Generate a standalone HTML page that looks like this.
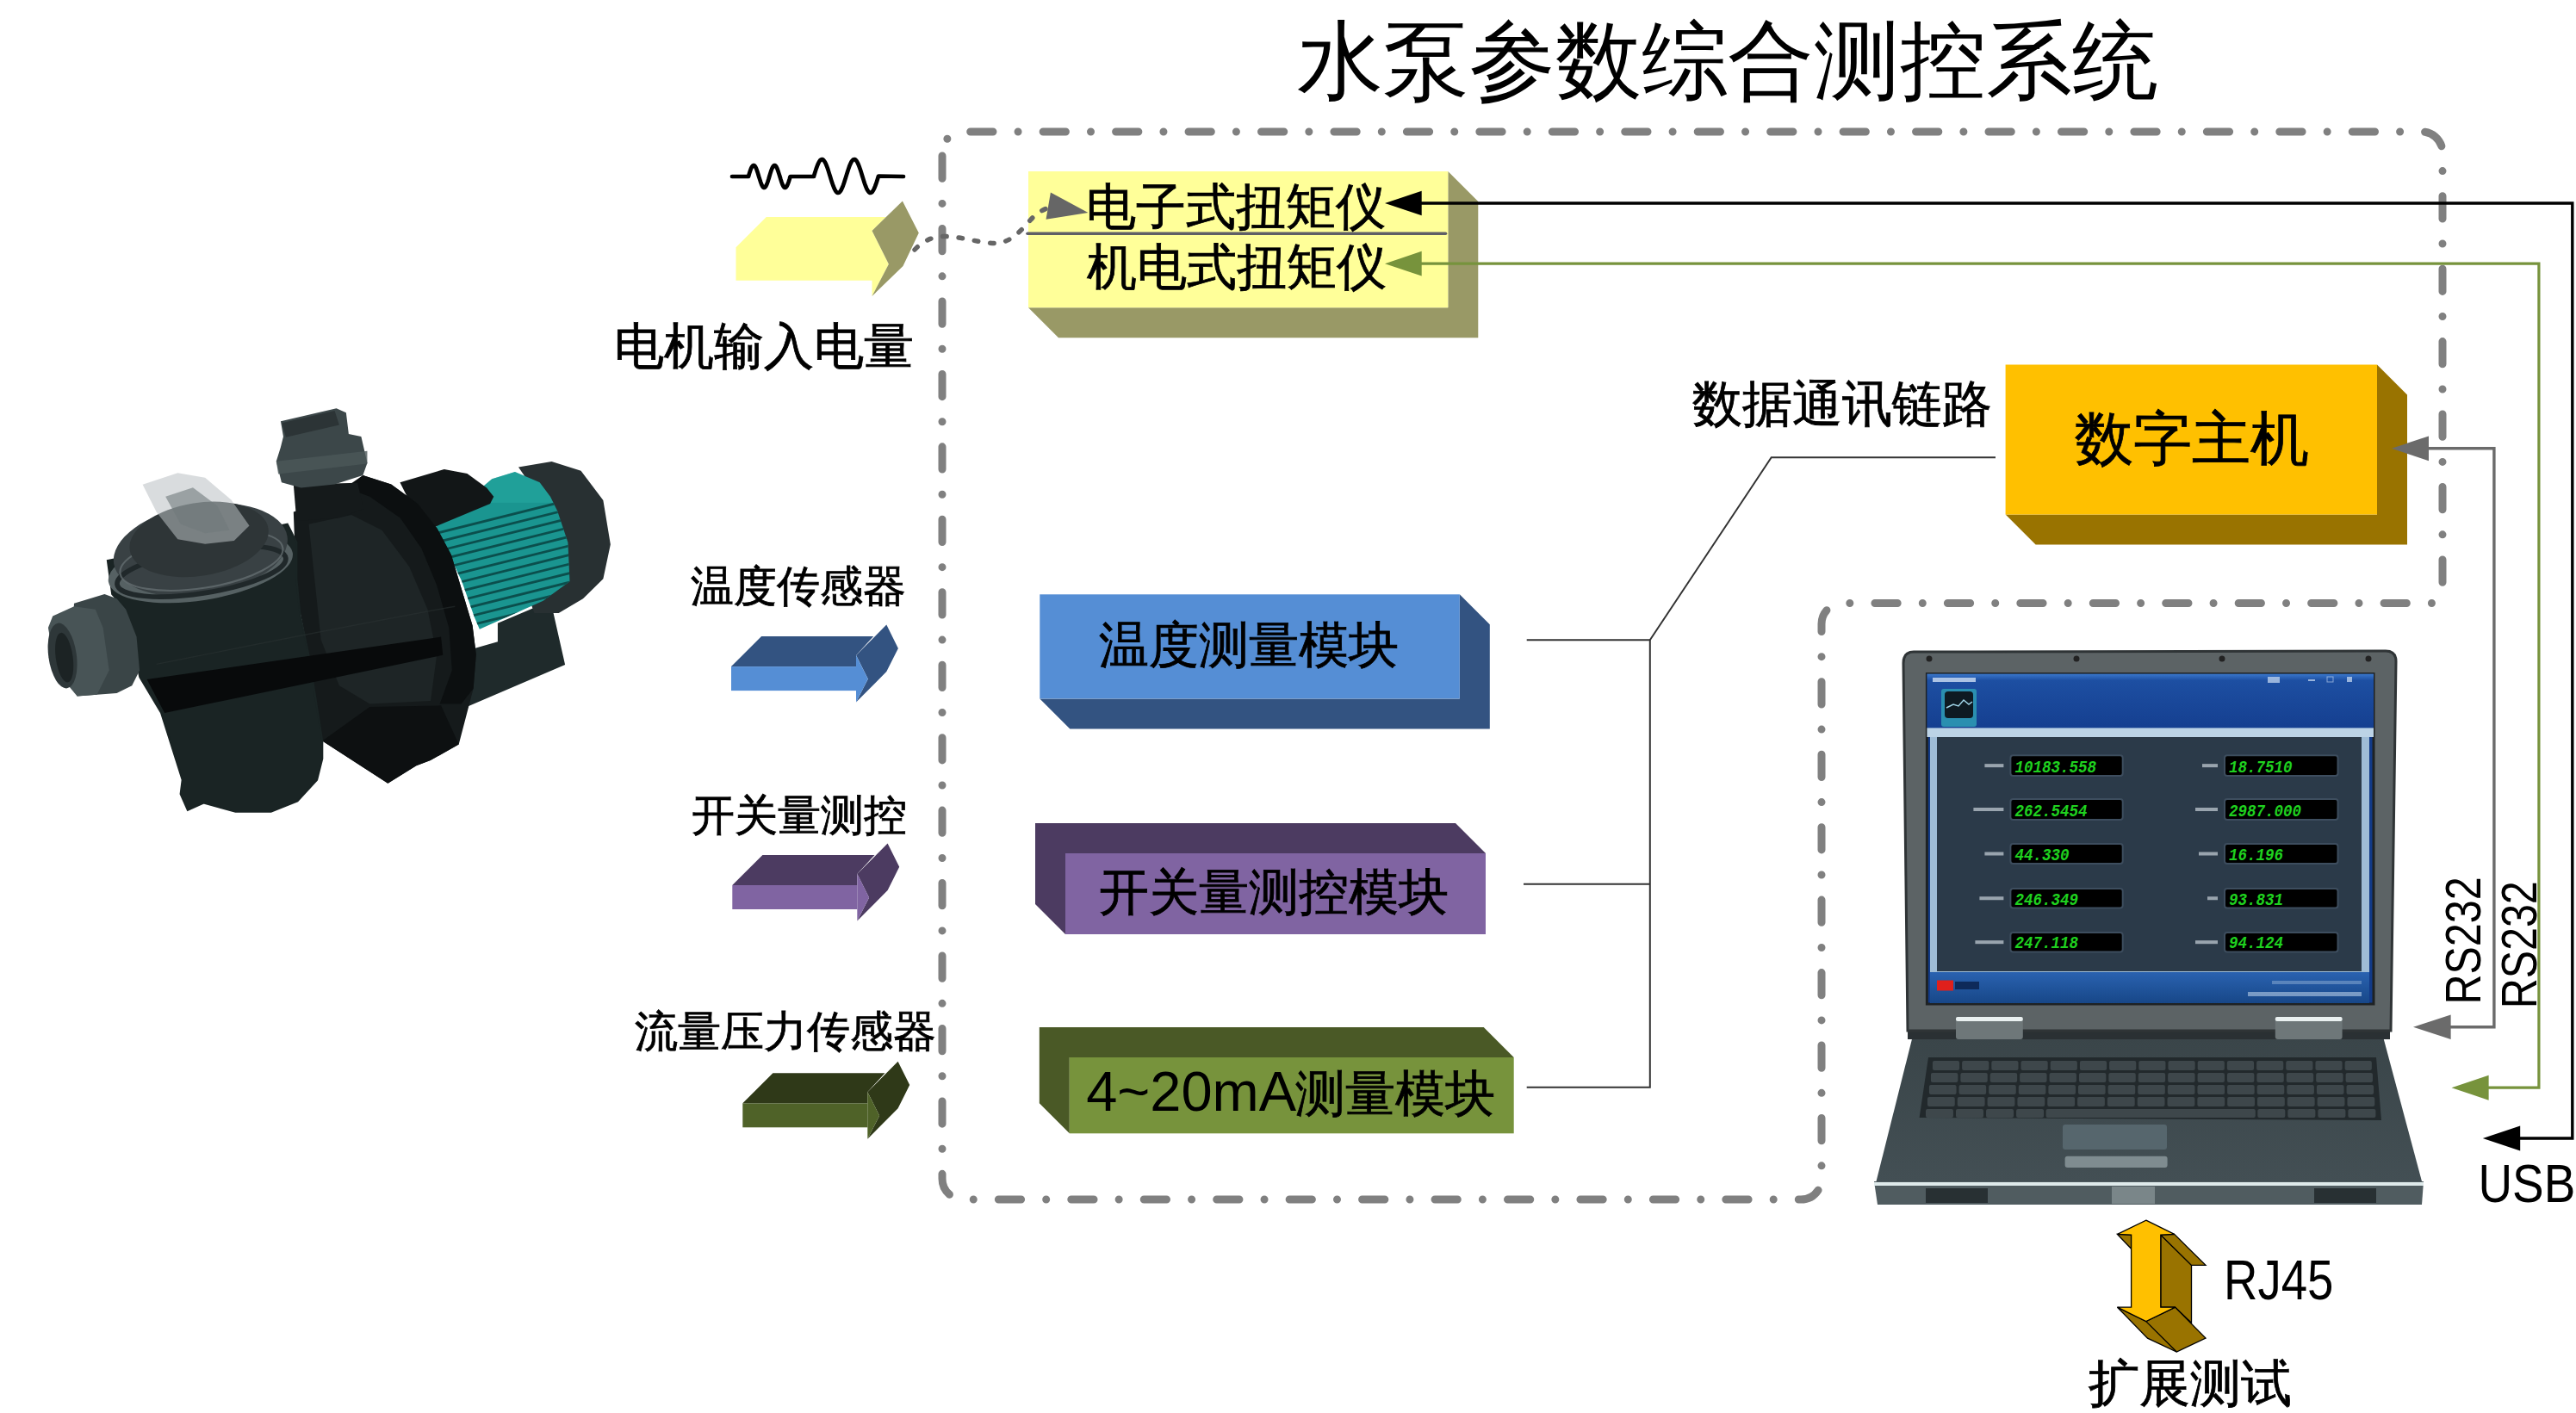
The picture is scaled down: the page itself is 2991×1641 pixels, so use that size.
<!DOCTYPE html>
<html><head><meta charset="utf-8"><title>水泵参数综合测控系统</title>
<style>
html,body{margin:0;padding:0;background:#ffffff;width:2991px;height:1641px;overflow:hidden}
svg{display:block}
text{font-family:"Liberation Sans",sans-serif}
</style></head><body>
<svg width="2991" height="1641" viewBox="0 0 2991 1641">
<rect width="2991" height="1641" fill="#ffffff"/>
<g transform="translate(40,460) scale(0.35389)">
<polygon points="1520,745 1650,690 1700,700 1741,881.7 1334,1056 1400,850 1438.7,829.4 1520,806" fill="#1f2a2b" />
<polygon points="1588,233 1697,215 1793,245 1866,341.6 1890,486.4 1866,600 1800,665 1720,712 1640,712 1600,600 1600,400 1620,280" fill="#283032" />
<clipPath id="mclip"><polygon points="1309.6,434.3 1501,272 1576.4,248.7 1657.6,283.5 1692.4,330 1715.6,376.3 1750.4,480.7 1756.2,608.3 1669.2,672 1460.4,765 1443,724.3 1402.4,608.3 1361.8,521.3"/></clipPath>
<polygon points="1309.6,434.3 1501,272 1576.4,248.7 1657.6,283.5 1692.4,330 1715.6,376.3 1750.4,480.7 1756.2,608.3 1669.2,672 1460.4,765 1443,724.3 1402.4,608.3 1361.8,521.3" fill="#1a9590" />
<g clip-path="url(#mclip)">
<line x1="1250" y1="467.13" x2="1800" y2="330" stroke="#0b4f4d" stroke-width="8"/>
<line x1="1250" y1="497.13" x2="1800" y2="360" stroke="#0b4f4d" stroke-width="8"/>
<line x1="1250" y1="527.13" x2="1800" y2="390" stroke="#0b4f4d" stroke-width="8"/>
<line x1="1250" y1="557.13" x2="1800" y2="420" stroke="#0b4f4d" stroke-width="8"/>
<line x1="1250" y1="587.13" x2="1800" y2="450" stroke="#0b4f4d" stroke-width="8"/>
<line x1="1250" y1="617.13" x2="1800" y2="480" stroke="#0b4f4d" stroke-width="8"/>
<line x1="1250" y1="647.13" x2="1800" y2="510" stroke="#0b4f4d" stroke-width="8"/>
<line x1="1250" y1="677.13" x2="1800" y2="540" stroke="#0b4f4d" stroke-width="8"/>
<line x1="1250" y1="707.13" x2="1800" y2="570" stroke="#0b4f4d" stroke-width="8"/>
<line x1="1250" y1="737.13" x2="1800" y2="600" stroke="#0b4f4d" stroke-width="8"/>
<line x1="1250" y1="767.13" x2="1800" y2="630" stroke="#0b4f4d" stroke-width="8"/>
<line x1="1250" y1="797.13" x2="1800" y2="660" stroke="#0b4f4d" stroke-width="8"/>
<line x1="1250" y1="827.13" x2="1800" y2="690" stroke="#0b4f4d" stroke-width="8"/>
<line x1="1250" y1="857.13" x2="1800" y2="720" stroke="#0b4f4d" stroke-width="8"/>
<line x1="1250" y1="887.13" x2="1800" y2="750" stroke="#0b4f4d" stroke-width="8"/>
<line x1="1250" y1="917.13" x2="1800" y2="780" stroke="#0b4f4d" stroke-width="8"/>
<rect x="1250" y="240" width="600" height="110" fill="#2fb5ad" opacity="0.35"/>
</g>
<polygon points="1199.4,283.5 1344.4,240 1419.8,254.5 1483.6,301 1506.8,330 1495.2,353 1315.4,428.5 1245.8,376.3" fill="#121617" />
<polygon points="850,380 1000,330 1077.6,260.3 1170.4,289.3 1257.4,353 1321.2,434.3 1367.6,521.3 1402.4,637.3 1437.2,753.3 1449,848 1440,960 1392.2,1143.3 1299.2,1195.6 1252.7,1213 1159.6,1271.2 944.5,1131.7 900,850 860,650" fill="#151a1b" />
<path d="M1077.6,260.3 L1170.4,289.3 L1257.4,353 L1321.2,434.3 L1367.6,521.3 L1402.4,637.3 L1437.2,753.3 L1449,848 L1440,960 L1400,1010 L1330,1010 L1370,900 L1360,760 L1320,620 L1270,500 L1200,400 L1100,330 L1020,300 Z" fill="#0c0f10"/>
<polygon points="900,420 1040,390 1140,440 1230,560 1290,700 1320,850 1300,1000 1100,1010 1000,950 940,800" fill="#1e2526" />
<polygon points="944.5,1131.7 1159.6,1271.2 1252.7,1213 1299.2,1195.6 1392.2,1143.3 1334,1015.4 1100,1020" fill="#0d1011" />
<polygon points="240,540 255,650 300,700 345.7,922.4 415.5,1038.7 485.2,1259.6 479.4,1306 502.7,1358.4 555,1335 659.6,1364.2 776,1364.2 863.1,1329.4 927.1,1259.6 944.5,1189.8 944.5,1131.7 900,850 872,720 860,600 860,480 830,420" fill="#1a2424" stroke="#1a2424" stroke-width="6"/>
<polygon points="369,930 1334,790 1340,850 427,1040" fill="#080a0b" />
<path d="M400,880 C700,820 1000,760 1380,690" stroke="#2b3334" stroke-width="4" fill="none" opacity="0.5"/>
<ellipse cx="545" cy="562" rx="306" ry="108" transform="rotate(-9 545 562)" fill="#566163"/>
<ellipse cx="545" cy="505" rx="288" ry="148" transform="rotate(-9 545 505)" fill="#394144"/>
<ellipse cx="548" cy="575" rx="280" ry="72" transform="rotate(-9 548 575)" fill="none" stroke="#20282a" stroke-width="16"/>
<ellipse cx="548" cy="540" rx="270" ry="90" transform="rotate(-9 548 540)" fill="none" stroke="#6a7476" stroke-width="6" opacity="0.7"/>
<ellipse cx="540" cy="470" rx="230" ry="120" transform="rotate(-9 540 470)" fill="#2e3537"/>
<polygon points="355,290 470,252 560,268 645,340 705,425 655,475 560,485 470,470 400,380" fill="#b9c0c2" opacity="0.55"/>
<polygon points="430,330 520,300 600,360 640,440 560,450 480,420" fill="#6f797b" opacity="0.6"/>
<polygon points="130,680 230,650 270,665 300,700 335,790 345,900 320,950 270,975 140,985 120,900" fill="#3a4547" />
<polygon points="45,760 60,722 130,690 200,700 225,760 245,900 205,980 140,985 70,900" fill="#485456" />
<ellipse cx="92" cy="852" rx="46" ry="108" transform="rotate(-8 92 852)" fill="#2e3739"/>
<ellipse cx="98" cy="858" rx="28" ry="82" transform="rotate(-8 98 858)" fill="#1c2324"/>
<polygon points="850,290 1060,285 1080,370 1000,400 860,410" fill="#151a1b" />
<polygon points="808,83 990.6,40 1022.5,54.4 1031,124 1072,132.7 1092,219.7 1077.6,260.3 984.8,289.3 874.6,300.9 810.8,283.5 793.4,214 808,167.5 816.6,132.7" fill="#3c4749" />
<polygon points="793.4,214 1092,180 1092,222 800,256" fill="#4b5759" opacity="0.8"/>
<polygon points="812,88 985,48 1000,95 825,135" fill="#2c3436" />
</g>
<defs><linearGradient id="hdr" x1="0" y1="0" x2="0" y2="1"><stop offset="0" stop-color="#3a78cc"/><stop offset="0.12" stop-color="#1d4fa2"/><stop offset="1" stop-color="#153f90"/></linearGradient><linearGradient id="ftr" x1="0" y1="0" x2="0" y2="1"><stop offset="0" stop-color="#2a62b0"/><stop offset="1" stop-color="#174788"/></linearGradient><linearGradient id="deck" x1="0" y1="0" x2="0" y2="1"><stop offset="0" stop-color="#3a4549"/><stop offset="1" stop-color="#434f54"/></linearGradient></defs>
<polygon points="2220.7,1204 2767,1204 2812,1372 2178.5,1372" fill="url(#deck)" />
<polygon points="2176,1372 2814,1372 2812,1399 2180,1399" fill="#505c60" />
<rect x="2176" y="1373" width="638" height="4" fill="#dfeaeb"/>
<rect x="2236" y="1380" width="72" height="17" fill="#283033"/>
<rect x="2687" y="1380" width="72" height="17" fill="#283033"/>
<rect x="2452" y="1378" width="50" height="20" fill="#7a8689"/>
<polygon points="2239,1228 2759,1228 2765,1301 2228.6,1298" fill="#22292c" />
<rect x="2243.93" y="1232" width="31.1932" height="11" rx="2" fill="#3e474b"/>
<rect x="2278.12" y="1232" width="31.1932" height="11" rx="2" fill="#3e474b"/>
<rect x="2312.32" y="1232" width="31.1932" height="11" rx="2" fill="#3e474b"/>
<rect x="2346.51" y="1232" width="31.1932" height="11" rx="2" fill="#3e474b"/>
<rect x="2380.7" y="1232" width="31.1932" height="11" rx="2" fill="#3e474b"/>
<rect x="2414.9" y="1232" width="31.1932" height="11" rx="2" fill="#3e474b"/>
<rect x="2449.09" y="1232" width="31.1932" height="11" rx="2" fill="#3e474b"/>
<rect x="2483.28" y="1232" width="31.1932" height="11" rx="2" fill="#3e474b"/>
<rect x="2517.48" y="1232" width="31.1932" height="11" rx="2" fill="#3e474b"/>
<rect x="2551.67" y="1232" width="31.1932" height="11" rx="2" fill="#3e474b"/>
<rect x="2585.86" y="1232" width="31.1932" height="11" rx="2" fill="#3e474b"/>
<rect x="2620.06" y="1232" width="31.1932" height="11" rx="2" fill="#3e474b"/>
<rect x="2654.25" y="1232" width="31.1932" height="11" rx="2" fill="#3e474b"/>
<rect x="2688.44" y="1232" width="31.1932" height="11" rx="2" fill="#3e474b"/>
<rect x="2722.64" y="1232" width="31.1932" height="11" rx="2" fill="#3e474b"/>
<rect x="2241.94" y="1246" width="31.4029" height="11" rx="2" fill="#3e474b"/>
<rect x="2276.34" y="1246" width="31.4029" height="11" rx="2" fill="#3e474b"/>
<rect x="2310.74" y="1246" width="31.4029" height="11" rx="2" fill="#3e474b"/>
<rect x="2345.14" y="1246" width="31.4029" height="11" rx="2" fill="#3e474b"/>
<rect x="2379.55" y="1246" width="31.4029" height="11" rx="2" fill="#3e474b"/>
<rect x="2413.95" y="1246" width="31.4029" height="11" rx="2" fill="#3e474b"/>
<rect x="2448.35" y="1246" width="31.4029" height="11" rx="2" fill="#3e474b"/>
<rect x="2482.76" y="1246" width="31.4029" height="11" rx="2" fill="#3e474b"/>
<rect x="2517.16" y="1246" width="31.4029" height="11" rx="2" fill="#3e474b"/>
<rect x="2551.56" y="1246" width="31.4029" height="11" rx="2" fill="#3e474b"/>
<rect x="2585.96" y="1246" width="31.4029" height="11" rx="2" fill="#3e474b"/>
<rect x="2620.37" y="1246" width="31.4029" height="11" rx="2" fill="#3e474b"/>
<rect x="2654.77" y="1246" width="31.4029" height="11" rx="2" fill="#3e474b"/>
<rect x="2689.17" y="1246" width="31.4029" height="11" rx="2" fill="#3e474b"/>
<rect x="2723.58" y="1246" width="31.4029" height="11" rx="2" fill="#3e474b"/>
<rect x="2239.94" y="1260" width="31.6126" height="11" rx="2" fill="#3e474b"/>
<rect x="2274.55" y="1260" width="31.6126" height="11" rx="2" fill="#3e474b"/>
<rect x="2309.17" y="1260" width="31.6126" height="11" rx="2" fill="#3e474b"/>
<rect x="2343.78" y="1260" width="31.6126" height="11" rx="2" fill="#3e474b"/>
<rect x="2378.39" y="1260" width="31.6126" height="11" rx="2" fill="#3e474b"/>
<rect x="2413" y="1260" width="31.6126" height="11" rx="2" fill="#3e474b"/>
<rect x="2447.62" y="1260" width="31.6126" height="11" rx="2" fill="#3e474b"/>
<rect x="2482.23" y="1260" width="31.6126" height="11" rx="2" fill="#3e474b"/>
<rect x="2516.84" y="1260" width="31.6126" height="11" rx="2" fill="#3e474b"/>
<rect x="2551.45" y="1260" width="31.6126" height="11" rx="2" fill="#3e474b"/>
<rect x="2586.07" y="1260" width="31.6126" height="11" rx="2" fill="#3e474b"/>
<rect x="2620.68" y="1260" width="31.6126" height="11" rx="2" fill="#3e474b"/>
<rect x="2655.29" y="1260" width="31.6126" height="11" rx="2" fill="#3e474b"/>
<rect x="2689.9" y="1260" width="31.6126" height="11" rx="2" fill="#3e474b"/>
<rect x="2724.52" y="1260" width="31.6126" height="11" rx="2" fill="#3e474b"/>
<rect x="2237.95" y="1274" width="31.8223" height="11" rx="2" fill="#3e474b"/>
<rect x="2272.77" y="1274" width="31.8223" height="11" rx="2" fill="#3e474b"/>
<rect x="2307.59" y="1274" width="31.8223" height="11" rx="2" fill="#3e474b"/>
<rect x="2342.41" y="1274" width="31.8223" height="11" rx="2" fill="#3e474b"/>
<rect x="2377.24" y="1274" width="31.8223" height="11" rx="2" fill="#3e474b"/>
<rect x="2412.06" y="1274" width="31.8223" height="11" rx="2" fill="#3e474b"/>
<rect x="2446.88" y="1274" width="31.8223" height="11" rx="2" fill="#3e474b"/>
<rect x="2481.7" y="1274" width="31.8223" height="11" rx="2" fill="#3e474b"/>
<rect x="2516.52" y="1274" width="31.8223" height="11" rx="2" fill="#3e474b"/>
<rect x="2551.35" y="1274" width="31.8223" height="11" rx="2" fill="#3e474b"/>
<rect x="2586.17" y="1274" width="31.8223" height="11" rx="2" fill="#3e474b"/>
<rect x="2620.99" y="1274" width="31.8223" height="11" rx="2" fill="#3e474b"/>
<rect x="2655.81" y="1274" width="31.8223" height="11" rx="2" fill="#3e474b"/>
<rect x="2690.64" y="1274" width="31.8223" height="11" rx="2" fill="#3e474b"/>
<rect x="2725.46" y="1274" width="31.8223" height="11" rx="2" fill="#3e474b"/>
<rect x="2235.95" y="1288" width="32.032" height="10" rx="2" fill="#3e474b"/>
<rect x="2270.98" y="1288" width="32.032" height="10" rx="2" fill="#3e474b"/>
<rect x="2306.02" y="1288" width="32.032" height="10" rx="2" fill="#3e474b"/>
<rect x="2341.05" y="1288" width="32.032" height="10" rx="2" fill="#3e474b"/>
<rect x="2375.58" y="1288" width="243.224" height="10" rx="2" fill="#3e474b"/>
<rect x="2621.3" y="1288" width="32.032" height="10" rx="2" fill="#3e474b"/>
<rect x="2656.34" y="1288" width="32.032" height="10" rx="2" fill="#3e474b"/>
<rect x="2691.37" y="1288" width="32.032" height="10" rx="2" fill="#3e474b"/>
<rect x="2726.4" y="1288" width="32.032" height="10" rx="2" fill="#3e474b"/>
<rect x="2395" y="1306" width="121" height="29" rx="3" fill="#56666d"/>
<rect x="2397.6" y="1342.7" width="119" height="13.3" rx="3" fill="#7f8c90"/>
<rect x="2215" y="1193" width="560" height="14" fill="#2a3033"/>
<path d="M2222,757 L2770,756 Q2782,756 2782,768 L2776,1197 L2215,1197 L2210,770 Q2210,757 2222,757 Z" fill="#5c6365" stroke="#2f3436" stroke-width="3"/>
<rect x="2271" y="1181" width="77.8" height="26" rx="3" fill="#6e7779"/>
<rect x="2271" y="1181" width="77.8" height="5" rx="2" fill="#e9f0f0"/>
<rect x="2641.8" y="1181" width="77.8" height="26" rx="3" fill="#6e7779"/>
<rect x="2641.8" y="1181" width="77.8" height="5" rx="2" fill="#e9f0f0"/>
<circle cx="2240" cy="765" r="3.5" fill="#222"/>
<circle cx="2411" cy="765" r="3.5" fill="#222"/>
<circle cx="2580" cy="765" r="3.5" fill="#222"/>
<circle cx="2750" cy="765" r="3.5" fill="#222"/>
<rect x="2237.4" y="782.6" width="518.6" height="383.4" fill="#123a88" stroke="#1e2224" stroke-width="3"/>
<rect x="2237.4" y="782.6" width="518.6" height="63" fill="url(#hdr)"/>
<rect x="2254" y="800" width="41" height="44" rx="3" fill="#2a8fb0"/>
<rect x="2258" y="803" width="33" height="31" rx="4" fill="#0e1a22"/>
<polyline points="2260,822 2268,818 2274,820 2280,813 2286,818 2290,815" fill="none" stroke="#9fd3e6" stroke-width="1.5"/>
<rect x="2244" y="787" width="50" height="5" fill="#cfe0f5" opacity="0.8"/>
<rect x="2633" y="786" width="14" height="7" fill="#cfe0f5" opacity="0.7"/>
<rect x="2680" y="789" width="8" height="2" fill="#cfe0f5" opacity="0.7"/>
<rect x="2702" y="786" width="7" height="6" fill="none" stroke="#cfe0f5" stroke-width="1" opacity="0.6"/>
<rect x="2725" y="786" width="6" height="6" fill="#cfe0f5" opacity="0.7"/>
<rect x="2237.4" y="845.4" width="518.6" height="10.6" fill="#bcd3e6"/>
<rect x="2241" y="856" width="510" height="273" fill="#9fbcd6"/>
<rect x="2249" y="856" width="493" height="272" fill="#2b3a49"/>
<rect x="2241" y="1129" width="510" height="36" fill="url(#ftr)"/>
<rect x="2249" y="1138.5" width="19" height="12" fill="#e0201c"/>
<rect x="2270" y="1140" width="28" height="9" fill="#0e2a5a"/>
<rect x="2638" y="1139" width="104" height="4" fill="#8fb0d6" opacity="0.5"/>
<rect x="2610" y="1152" width="132" height="5" fill="#b8cde6" opacity="0.6"/>
<rect x="2334.4" y="877.3" width="130.3" height="23.7" rx="3" fill="#000" stroke="#3d4d5e" stroke-width="2"/>
<text x="2339.4" y="897" style="font-family:'Liberation Mono',monospace" font-size="21" font-weight="bold" font-style="italic" fill="#1fd11f" textLength="94.5" lengthAdjust="spacingAndGlyphs">10183.558</text>
<rect x="2304.4" y="887.15" width="22" height="4" fill="#c9d2da" opacity="0.7"/>
<rect x="2583" y="877.3" width="131.5" height="23.7" rx="3" fill="#000" stroke="#3d4d5e" stroke-width="2"/>
<text x="2588" y="897" style="font-family:'Liberation Mono',monospace" font-size="21" font-weight="bold" font-style="italic" fill="#1fd11f" textLength="73.5" lengthAdjust="spacingAndGlyphs">18.7510</text>
<rect x="2557" y="887.15" width="18" height="4" fill="#c9d2da" opacity="0.7"/>
<rect x="2334.4" y="928" width="130.3" height="24" rx="3" fill="#000" stroke="#3d4d5e" stroke-width="2"/>
<text x="2339.4" y="948" style="font-family:'Liberation Mono',monospace" font-size="21" font-weight="bold" font-style="italic" fill="#1fd11f" textLength="84" lengthAdjust="spacingAndGlyphs">262.5454</text>
<rect x="2291.4" y="938" width="35" height="4" fill="#c9d2da" opacity="0.7"/>
<rect x="2583" y="928" width="131.5" height="24" rx="3" fill="#000" stroke="#3d4d5e" stroke-width="2"/>
<text x="2588" y="948" style="font-family:'Liberation Mono',monospace" font-size="21" font-weight="bold" font-style="italic" fill="#1fd11f" textLength="84" lengthAdjust="spacingAndGlyphs">2987.000</text>
<rect x="2549" y="938" width="26" height="4" fill="#c9d2da" opacity="0.7"/>
<rect x="2334.4" y="980" width="130.3" height="23" rx="3" fill="#000" stroke="#3d4d5e" stroke-width="2"/>
<text x="2339.4" y="999" style="font-family:'Liberation Mono',monospace" font-size="21" font-weight="bold" font-style="italic" fill="#1fd11f" textLength="63" lengthAdjust="spacingAndGlyphs">44.330</text>
<rect x="2304.4" y="989.5" width="22" height="4" fill="#c9d2da" opacity="0.7"/>
<rect x="2583" y="980" width="131.5" height="23" rx="3" fill="#000" stroke="#3d4d5e" stroke-width="2"/>
<text x="2588" y="999" style="font-family:'Liberation Mono',monospace" font-size="21" font-weight="bold" font-style="italic" fill="#1fd11f" textLength="63" lengthAdjust="spacingAndGlyphs">16.196</text>
<rect x="2553" y="989.5" width="22" height="4" fill="#c9d2da" opacity="0.7"/>
<rect x="2334.4" y="1032" width="130.3" height="22.5" rx="3" fill="#000" stroke="#3d4d5e" stroke-width="2"/>
<text x="2339.4" y="1050.5" style="font-family:'Liberation Mono',monospace" font-size="21" font-weight="bold" font-style="italic" fill="#1fd11f" textLength="73.5" lengthAdjust="spacingAndGlyphs">246.349</text>
<rect x="2298.4" y="1041.25" width="28" height="4" fill="#c9d2da" opacity="0.7"/>
<rect x="2583" y="1032" width="131.5" height="22.5" rx="3" fill="#000" stroke="#3d4d5e" stroke-width="2"/>
<text x="2588" y="1050.5" style="font-family:'Liberation Mono',monospace" font-size="21" font-weight="bold" font-style="italic" fill="#1fd11f" textLength="63" lengthAdjust="spacingAndGlyphs">93.831</text>
<rect x="2563" y="1041.25" width="12" height="4" fill="#c9d2da" opacity="0.7"/>
<rect x="2334.4" y="1083" width="130.3" height="22.4" rx="3" fill="#000" stroke="#3d4d5e" stroke-width="2"/>
<text x="2339.4" y="1101.4" style="font-family:'Liberation Mono',monospace" font-size="21" font-weight="bold" font-style="italic" fill="#1fd11f" textLength="73.5" lengthAdjust="spacingAndGlyphs">247.118</text>
<rect x="2293.4" y="1092.2" width="33" height="4" fill="#c9d2da" opacity="0.7"/>
<rect x="2583" y="1083" width="131.5" height="22.4" rx="3" fill="#000" stroke="#3d4d5e" stroke-width="2"/>
<text x="2588" y="1101.4" style="font-family:'Liberation Mono',monospace" font-size="21" font-weight="bold" font-style="italic" fill="#1fd11f" textLength="63" lengthAdjust="spacingAndGlyphs">94.124</text>
<rect x="2549" y="1092.2" width="26" height="4" fill="#c9d2da" opacity="0.7"/>
<path d="M2836,690 L2836,177 A24,24 0 0 0 2812,153 L1118,153 A24,24 0 0 0 1094,177" fill="none" stroke="#808080" stroke-width="9" stroke-linecap="round" stroke-dasharray="26.25 29.1 0 29.1" stroke-dashoffset="70.65"/>
<path d="M1094,177 L1094,1369 A24,24 0 0 0 1118,1393 L2091,1393 A24,24 0 0 0 2115,1369 L2115,724.5 A24,24 0 0 1 2139,700.5 L2826,700.5" fill="none" stroke="#808080" stroke-width="9" stroke-linecap="round" stroke-dasharray="26.25 29.1 0 29.1" stroke-dashoffset="80.40"/>
<polygon points="1681.3,199.0 1716.3,234.0 1716.3,392.2 1229.0,392.2 1194.0,357.2 1681.3,357.2" fill="#999966" /><rect x="1194.0" y="199.0" width="487.3" height="158.2" fill="#FFFF99"/>
<line x1="1193" y1="271.2" x2="1678.5" y2="271.2" stroke="#5f5f66" stroke-width="3.6" stroke-linecap="round"/>
<text x="1261.4" y="260.0" font-size="58"  stroke="#000" stroke-width="0.8">电子式扭矩仪</text>
<text x="1261.8" y="330.0" font-size="58"  stroke="#000" stroke-width="0.8">机电式扭矩仪</text>
<polygon points="1694.8,690.3 1729.8,725.3 1729.8,846.4 1242.3,846.4 1207.3,811.4 1694.8,811.4" fill="#335381" /><rect x="1207.3" y="690.3" width="487.5" height="121.1" fill="#558ED5"/>
<text x="1275.7" y="768.6" font-size="58"  stroke="#000" stroke-width="0.8">温度测量模块</text>
<polygon points="1237.0,1085.0 1202.0,1050.0 1202.0,956.0 1690.0,956.0 1725.0,991.0 1237.0,991.0" fill="#4C3B61" /><rect x="1237.0" y="991.0" width="488.0" height="94.0" fill="#8064A2"/>
<text x="1276.0" y="1056.0" font-size="58"  stroke="#000" stroke-width="0.8">开关量测控模块</text>
<polygon points="1241.8,1316.3 1206.8,1281.3 1206.8,1193.0 1722.7,1193.0 1757.7,1228.0 1241.8,1228.0" fill="#4A5926" /><rect x="1241.8" y="1228.0" width="515.9" height="88.3" fill="#77933C"/>
<text x="1261.2" y="1290.0" font-size="65" >4~20mA</text>
<text x="1504.4" y="1289.7" font-size="58"  stroke="#000" stroke-width="0.8">测量模块</text>
<polygon points="2760.0,423.5 2795.0,458.5 2795.0,632.5 2363.6,632.5 2328.6,597.5 2760.0,597.5" fill="#997300" /><rect x="2328.6" y="423.5" width="431.4" height="174.0" fill="#FFC000"/>
<text x="2408.5" y="533.4" font-size="67.7"  stroke="#000" stroke-width="0.8">数字主机</text>
<text x="1964.6" y="489.0" font-size="58"  stroke="#000" stroke-width="0.8">数据通讯链路</text>
<rect x="849.0" y="774.1" width="145.0" height="28.0" fill="#558ED5"/><polygon points="849.0,774.1 884.1,739.0 1014.2,739.0 994.0,761.0 994.0,774.1" fill="#335381" /><polygon points="994.0,761.0 1029.3,725.6 1042.9,752.9 1029.3,780.1 994.0,815.6 1007.8,788.6" fill="#335381" /><polygon points="994.0,761.0 1007.8,788.6 994.0,815.6" fill="#558ED5" />
<rect x="850.3" y="1028.0" width="145.0" height="28.0" fill="#8064A2"/><polygon points="850.3,1028.0 885.4,992.9 1015.5,992.9 995.3,1014.9 995.3,1028.0" fill="#4C3B61" /><polygon points="995.3,1014.9 1030.6,979.5 1044.2,1006.8 1030.6,1034.0 995.3,1069.5 1009.1,1042.5" fill="#4C3B61" /><polygon points="995.3,1014.9 1009.1,1042.5 995.3,1069.5" fill="#8064A2" />
<rect x="862.3" y="1281.3" width="145.0" height="28.0" fill="#4F6228"/><polygon points="862.3,1281.3 897.4,1246.2 1027.5,1246.2 1007.3,1268.2 1007.3,1281.3" fill="#2F3918" /><polygon points="1007.3,1268.2 1042.6,1232.8 1056.2,1260.1 1042.6,1287.3 1007.3,1322.8 1021.1,1295.8" fill="#2F3918" /><polygon points="1007.3,1268.2 1021.1,1295.8 1007.3,1322.8" fill="#4F6228" />
<text x="802.3" y="698.3" font-size="50"  stroke="#000" stroke-width="0.8">温度传感器</text>
<text x="802.6" y="964.0" font-size="50"  stroke="#000" stroke-width="0.8">开关量测控</text>
<text x="737.4" y="1215.3" font-size="50"  stroke="#000" stroke-width="0.8">流量压力传感器</text>
<polygon points="854.5,325.8 854.5,287.3 889.8,252.0 1028.8,252.0 1012.5,268.0 1031.9,306.7 1012.5,344.0 1012.5,325.8" fill="#FFFF99" />
<polygon points="1012.5,267.9 1047.9,233.4 1066.8,270.6 1048.5,309.1 1012.5,344.0 1031.9,306.7" fill="#999966" />
<text x="712.8" y="421.7" font-size="58"  stroke="#000" stroke-width="0.8">电机输入电量</text>
<polyline points="850.0,205.0 869.0,205.0 869.0,205.0 870.0,201.6 871.0,198.5 872.0,195.8 873.0,193.7 874.1,192.4 875.1,192.0 876.1,192.4 877.1,193.7 878.1,195.8 879.1,198.5 880.1,201.6 881.1,205.0 882.2,208.4 883.2,211.5 884.2,214.2 885.2,216.3 886.2,217.6 887.2,218.0 888.2,217.6 889.2,216.3 890.3,214.2 891.3,211.5 892.3,208.4 893.3,205.0 894.3,201.6 895.3,198.5 896.3,195.8 897.4,193.7 898.4,192.4 899.4,192.0 900.4,192.4 901.4,193.7 902.4,195.8 903.4,198.5 904.4,201.6 905.5,205.0 906.5,208.4 907.5,211.5 908.5,214.2 909.5,216.3 910.5,217.6 911.5,218.0 912.5,217.6 913.5,216.3 914.6,214.2 915.6,211.5 916.6,208.4 917.6,205.0 945.0,205.0 945.0,204.5 946.0,201.2 947.0,198.1 948.0,195.1 949.0,192.4 950.0,190.0 951.0,188.0 952.0,186.5 953.0,185.5 954.0,185.0 955.0,185.1 956.0,185.7 957.0,186.9 958.0,188.5 959.0,190.6 960.0,193.0 961.0,195.8 962.0,198.9 963.0,202.1 964.0,205.3 965.0,208.6 966.0,211.7 967.0,214.6 968.0,217.2 969.0,219.5 970.0,221.4 971.0,222.8 972.0,223.7 973.0,224.0 974.0,223.8 975.0,223.0 976.0,221.8 977.0,220.0 978.0,217.8 979.0,215.3 980.0,212.4 981.0,209.3 982.0,206.1 983.0,202.9 984.0,199.7 985.0,196.6 986.0,193.7 987.0,191.2 988.0,189.0 989.0,187.2 990.0,186.0 991.0,185.2 992.0,185.0 993.0,185.3 994.0,186.2 995.0,187.6 996.0,189.5 997.0,191.8 998.0,194.4 999.0,197.3 1000.0,200.4 1001.0,203.7 1002.0,206.9 1003.0,210.1 1004.0,213.2 1005.0,216.0 1006.0,218.4 1007.0,220.5 1008.0,222.1 1009.0,223.3 1010.0,223.9 1011.0,224.0 1012.0,223.5 1013.0,222.5 1014.0,221.0 1015.0,219.0 1016.0,216.6 1017.0,213.9 1018.0,210.9 1019.0,207.8 1020.0,204.5 1049.0,205.0" fill="none" stroke="#000" stroke-width="4.7" stroke-linecap="round" stroke-linejoin="round"/>
<path d="M1062,290 C1072,279 1085,274 1099,274.5 C1120,275.5 1140,283 1157,282.5 C1175,281 1185,268 1196,256 C1203,248 1210,243 1222,240" fill="none" stroke="#666" stroke-width="5.5" stroke-linecap="round" stroke-dasharray="4.5 14"/>
<polygon points="1263.4,247.0 1219.9,223.4 1214.5,254.8" fill="#666" />
<polyline points="1772.7,743.3 1915.8,743.3 1915.8,1262.8 1772.7,1262.8" fill="none" stroke="#333" stroke-width="2"/>
<line x1="1769" y1="1026.8" x2="1915.8" y2="1026.8" stroke="#333" stroke-width="2"/>
<polyline points="1915.8,743.3 2056.7,531.3 2317,531.3" fill="none" stroke="#333" stroke-width="2"/>
<polyline points="1640,236 2986.8,236 2986.8,1322 2910,1322" fill="none" stroke="#000" stroke-width="3.4"/>
<polygon points="1608.0,236.0 1650.7,221.7 1650.7,250.3" fill="#000" />
<polygon points="2882.8,1322.0 2926.2,1307.5 2926.2,1336.5" fill="#000" />
<polyline points="1640,306.2 2947.9,306.2 2947.9,1263.2 2875,1263.2" fill="none" stroke="#77933C" stroke-width="3.2"/>
<polygon points="1608.0,306.2 1650.7,291.8 1650.7,320.6" fill="#77933C" />
<polygon points="2846.5,1263.2 2889.6,1248.7 2889.6,1277.7" fill="#77933C" />
<polyline points="2810,520.8 2895.9,520.8 2895.9,1192.7 2830,1192.7" fill="none" stroke="#6b6b6b" stroke-width="3.4"/>
<polygon points="2777.0,520.8 2820.0,506.4 2820.0,535.2" fill="#6b6b6b" />
<polygon points="2802.0,1192.7 2845.6,1178.5 2845.6,1206.9" fill="#6b6b6b" />
<text transform="translate(2879.5,1166.5) rotate(-90) scale(0.85,1)" font-size="57">RS232</text>
<text transform="translate(2945.0,1171.3) rotate(-90) scale(0.85,1)" font-size="57">RS232</text>
<text transform="translate(2877.5,1396) scale(0.86,1)" font-size="63.8">USB</text>
<text transform="translate(2582,1509.4) scale(0.84,1)" font-size="65">RJ45</text>
<text x="2424.9" y="1626.6" font-size="59"  stroke="#000" stroke-width="0.8">扩展测试</text>
<polygon points="2458.5,1433.4 2474.6,1434.1 2474.6,1450.3" fill="#997300" stroke="#000" stroke-width="1.3" stroke-linejoin="miter"/>
<polygon points="2508.8,1434.1 2544.5,1469.4 2544.5,1536.3 2525.6,1518.2 2508.8,1518.2" fill="#997300" stroke="#000" stroke-width="1.3" stroke-linejoin="miter"/>
<polygon points="2508.8,1434.1 2524.7,1433.4 2561.0,1469.4 2544.5,1469.4" fill="#997300" stroke="#000" stroke-width="1.3" stroke-linejoin="miter"/>
<polygon points="2458.5,1518.2 2491.8,1534.6 2525.6,1518.2 2561.0,1554.1 2527.3,1570.0 2493.5,1554.1" fill="#997300" stroke="#000" stroke-width="1.3" stroke-linejoin="miter"/>
<line x1="2491.8" y1="1534.6" x2="2527.3" y2="1570" stroke="#000" stroke-width="1.3"/>
<polygon points="2491.8,1417.2 2524.7,1433.4 2508.8,1434.1 2508.8,1518.2 2525.6,1518.2 2491.8,1534.6 2458.5,1518.2 2474.6,1518.2 2474.6,1434.1 2458.5,1433.4" fill="#FFC000" stroke="#000" stroke-width="1.3" stroke-linejoin="miter"/>
<text x="1505.7" y="104.8" font-size="100" >水泵参数综合测控系统</text>
</svg>
</body></html>
